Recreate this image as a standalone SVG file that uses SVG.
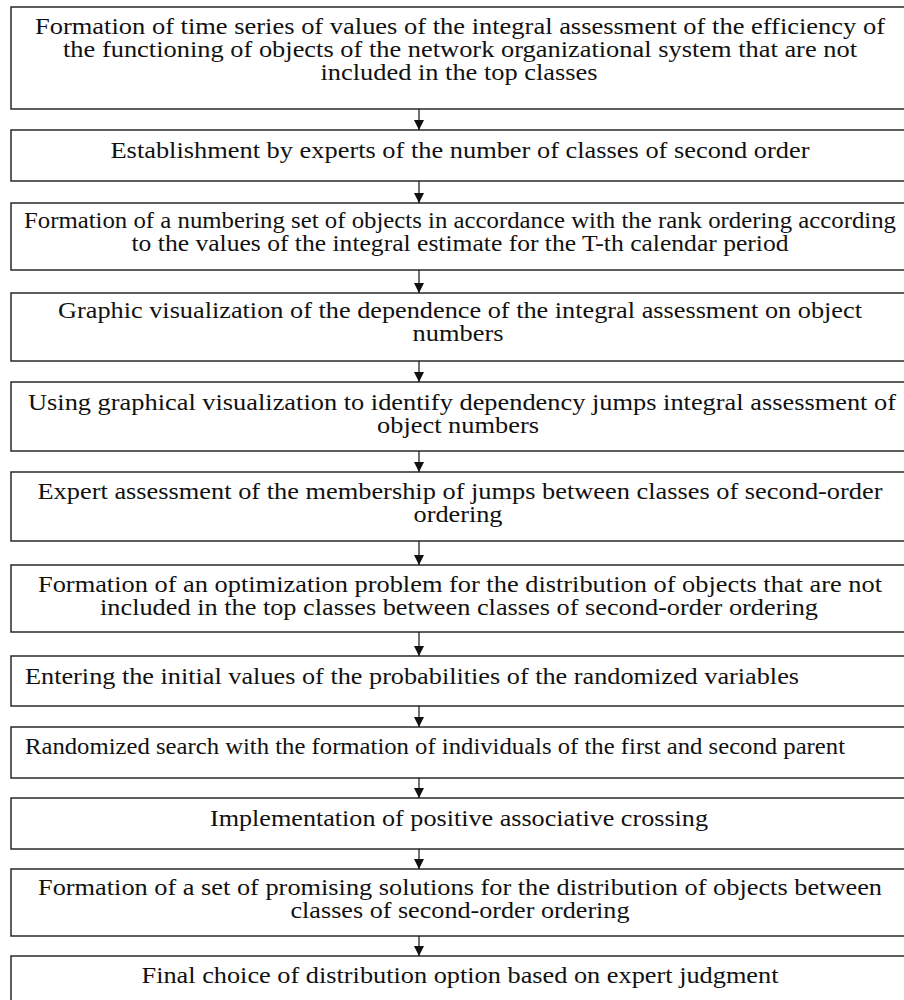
<svg xmlns="http://www.w3.org/2000/svg" width="904" height="1000" viewBox="0 0 904 1000">
<style>
.box{fill:#ffffff;stroke:#2a2a2a;stroke-width:1.5}
text{font-family:"Liberation Serif","Times New Roman",serif;font-size:22.5px;fill:#111111}
.c{text-anchor:middle}
.l{text-anchor:start}
.conn line{stroke:#111111;stroke-width:1.2}
</style>
<defs>
<marker id="arr" viewBox="0 0 10 10" refX="10" refY="5" markerWidth="10" markerHeight="10" markerUnits="userSpaceOnUse" orient="auto">
<path d="M0,0 L10,5 L0,10 Z" fill="#111111"/>
</marker>
</defs>
<rect width="904" height="1000" fill="#ffffff"/>
<g id="n1"><rect class="box" x="11" y="7" width="894" height="102"/>
<text class="c" x="460" y="34" textLength="850" lengthAdjust="spacingAndGlyphs">Formation of time series of values of the integral assessment of the efficiency of</text>
<text class="c" x="460" y="57" textLength="794" lengthAdjust="spacingAndGlyphs">the functioning of objects of the network organizational system that are not</text>
<text class="c" x="459" y="80" textLength="277" lengthAdjust="spacingAndGlyphs">included in the top classes</text></g>
<g id="n2"><rect class="box" x="11" y="130" width="894" height="51"/>
<text class="c" x="460" y="158" textLength="699" lengthAdjust="spacingAndGlyphs">Establishment by experts of the number of classes of second order</text></g>
<g id="n3"><rect class="box" x="11" y="203" width="894" height="67"/>
<text class="c" x="460" y="228" textLength="872" lengthAdjust="spacingAndGlyphs">Formation of a numbering set of objects in accordance with the rank ordering according</text>
<text class="c" x="460" y="251" textLength="657" lengthAdjust="spacingAndGlyphs">to the values of the integral estimate for the T-th calendar period</text></g>
<g id="n4"><rect class="box" x="11" y="293" width="894" height="68"/>
<text class="c" x="460" y="318" textLength="804" lengthAdjust="spacingAndGlyphs">Graphic visualization of the dependence of the integral assessment on object</text>
<text class="c" x="458" y="341" textLength="91" lengthAdjust="spacingAndGlyphs">numbers</text></g>
<g id="n5"><rect class="box" x="11" y="382" width="894" height="69"/>
<text class="c" x="462" y="410" textLength="868" lengthAdjust="spacingAndGlyphs">Using graphical visualization to identify dependency jumps integral assessment of</text>
<text class="c" x="458" y="433" textLength="162" lengthAdjust="spacingAndGlyphs">object numbers</text></g>
<g id="n6"><rect class="box" x="11" y="472" width="894" height="69"/>
<text class="c" x="460" y="499" textLength="845" lengthAdjust="spacingAndGlyphs">Expert assessment of the membership of jumps between classes of second-order</text>
<text class="c" x="458" y="522" textLength="89" lengthAdjust="spacingAndGlyphs">ordering</text></g>
<g id="n7"><rect class="box" x="11" y="565" width="894" height="67"/>
<text class="c" x="460" y="592" textLength="844" lengthAdjust="spacingAndGlyphs">Formation of an optimization problem for the distribution of objects that are not</text>
<text class="c" x="459" y="615" textLength="718" lengthAdjust="spacingAndGlyphs">included in the top classes between classes of second-order ordering</text></g>
<g id="n8"><rect class="box" x="11" y="656" width="894" height="50"/>
<text class="l" x="25" y="684" textLength="774" lengthAdjust="spacingAndGlyphs">Entering the initial values of the probabilities of the randomized variables</text></g>
<g id="n9"><rect class="box" x="11" y="727" width="894" height="51"/>
<text class="l" x="25" y="754" textLength="820" lengthAdjust="spacingAndGlyphs">Randomized search with the formation of individuals of the first and second parent</text></g>
<g id="n10"><rect class="box" x="11" y="798" width="894" height="51"/>
<text class="c" x="459" y="826" textLength="498" lengthAdjust="spacingAndGlyphs">Implementation of positive associative crossing</text></g>
<g id="n11"><rect class="box" x="11" y="869" width="894" height="67"/>
<text class="c" x="460" y="895" textLength="844" lengthAdjust="spacingAndGlyphs">Formation of a set of promising solutions for the distribution of objects between</text>
<text class="c" x="460" y="918" textLength="339" lengthAdjust="spacingAndGlyphs">classes of second-order ordering</text></g>
<g id="n12"><rect class="box" x="11" y="956" width="894" height="50"/>
<text class="c" x="460" y="983" textLength="637" lengthAdjust="spacingAndGlyphs">Final choice of distribution option based on expert judgment</text></g>
<g id="connectors" class="conn">
<line x1="419" y1="109" x2="419" y2="130" marker-end="url(#arr)"/>
<line x1="419" y1="181" x2="419" y2="203" marker-end="url(#arr)"/>
<line x1="419" y1="270" x2="419" y2="293" marker-end="url(#arr)"/>
<line x1="419" y1="361" x2="419" y2="382" marker-end="url(#arr)"/>
<line x1="419" y1="451" x2="419" y2="472" marker-end="url(#arr)"/>
<line x1="419" y1="541" x2="419" y2="565" marker-end="url(#arr)"/>
<line x1="419" y1="632" x2="419" y2="656" marker-end="url(#arr)"/>
<line x1="419" y1="706" x2="419" y2="727" marker-end="url(#arr)"/>
<line x1="419" y1="778" x2="419" y2="798" marker-end="url(#arr)"/>
<line x1="419" y1="849" x2="419" y2="869" marker-end="url(#arr)"/>
<line x1="419" y1="936" x2="419" y2="956" marker-end="url(#arr)"/>
</g>
</svg>
